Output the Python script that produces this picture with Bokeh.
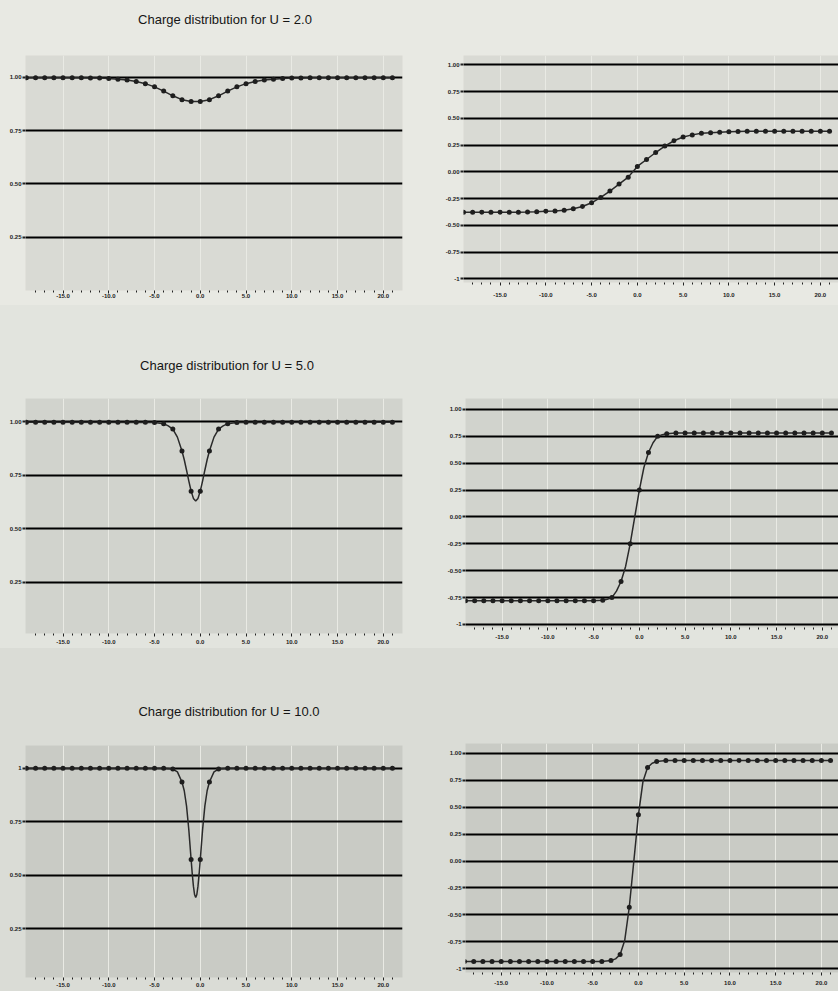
from bokeh.plotting import figure
from bokeh.layouts import column, row
from bokeh.models import FixedTicker, Range1d, PrintfTickFormatter, Div
from bokeh.embed import file_html
from bokeh.resources import INLINE

# lattice sites
sites = list(range(-19, 22))

# x ticks
x_major = [-15, -10, -5, 0, 5, 10, 15, 20]
x_minor = [-18, -17, -16, -14, -13, -12, -11, -9, -8, -7, -6, -4, -3, -2, -1,
           1, 2, 3, 4, 6, 7, 8, 9, 11, 12, 13, 14, 16, 17, 18, 19, 21]
charge_ticks = [0.25, 0.50, 0.75, 1.00]
spin_ticks = [-1.0, -0.75, -0.5, -0.25, 0.0, 0.25, 0.5, 0.75, 1.0]

titles = ["Charge distribution for U = 2.0",
          "Charge distribution for U = 5.0",
          "Charge distribution for U = 10.0"]

# ---- U = 2.0 ----
charge_u2 = [0.998] * 7 + [0.997, 0.996, 0.994, 0.991, 0.987, 0.980, 0.970, 0.955,
                           0.935, 0.913, 0.895, 0.886, 0.886, 0.895, 0.913, 0.935,
                           0.955, 0.970, 0.980, 0.987, 0.991, 0.994, 0.996, 0.997] + [0.998] * 10
spin_u2 = [-0.378] * 7 + [-0.377, -0.374, -0.370, -0.366, -0.360, -0.345, -0.325, -0.290,
                          -0.240, -0.180, -0.115, -0.050, 0.050, 0.115, 0.180, 0.240,
                          0.290, 0.325, 0.345, 0.360, 0.366, 0.370, 0.374, 0.377] + [0.378] * 10

# ---- U = 5.0 ----
charge_u5 = [0.999] * 14 + [0.998, 0.992, 0.967, 0.864, 0.676, 0.676, 0.864, 0.967,
                            0.992, 0.998] + [0.999] * 17
spin_u5 = [-0.78] * 14 + [-0.78, -0.775, -0.75, -0.60, -0.25, 0.25, 0.60, 0.75,
                          0.775, 0.78] + [0.78] * 17
# continuous profile drawn through the sites
curve_u5_x = [-19, -5, -4, -3.5, -3, -2.5, -2, -1.75, -1.5, -1.25, -1, -0.75, -0.5,
              -0.25, 0, 0.25, 0.5, 0.75, 1, 1.5, 2, 2.5, 3, 4, 21]
curve_u5_y = [0.999, 0.998, 0.992, 0.982, 0.967, 0.929, 0.864, 0.823, 0.774, 0.723,
              0.676, 0.642, 0.630, 0.642, 0.676, 0.723, 0.774, 0.823, 0.864, 0.929,
              0.967, 0.982, 0.992, 0.998, 0.999]
curve_s5_x = [-19, -5, -4, -3.5, -3, -2.5, -2, -1.5, -1, -0.5, 0, 0.5, 1, 1.5, 2,
              2.5, 3, 4, 21]
curve_s5_y = [-0.78, -0.78, -0.775, -0.765, -0.75, -0.69, -0.60, -0.46, -0.25, 0.0,
              0.25, 0.46, 0.60, 0.69, 0.75, 0.765, 0.775, 0.78, 0.78]

# ---- U = 10.0 ----
charge_u10 = [0.999] * 15 + [0.999, 0.995, 0.935, 0.573, 0.573, 0.935, 0.995,
                             0.999] + [0.999] * 18
spin_u10 = [-0.935] * 15 + [-0.935, -0.925, -0.87, -0.43, 0.43, 0.87, 0.925,
                            0.935] + [0.935] * 18
curve_u10_x = [-19, -4, -3, -2.5, -2, -1.75, -1.5, -1.25, -1, -0.875, -0.75, -0.625,
               -0.5, -0.375, -0.25, -0.125, 0, 0.25, 0.5, 0.75, 1, 1.5, 2, 3, 21]
curve_u10_y = [0.999, 0.999, 0.995, 0.982, 0.935, 0.894, 0.822, 0.711, 0.573, 0.506,
               0.449, 0.410, 0.396, 0.410, 0.449, 0.506, 0.573, 0.711, 0.822, 0.894,
               0.935, 0.982, 0.995, 0.999, 0.999]
curve_s10_x = [-19, -4, -3, -2.5, -2, -1.5, -1, -0.5, 0, 0.5, 1, 1.5, 2, 3, 21]
curve_s10_y = [-0.935, -0.935, -0.925, -0.91, -0.87, -0.74, -0.43, 0.0, 0.43, 0.74,
               0.87, 0.91, 0.925, 0.935, 0.935]

FONT = "Liberation Sans"
INK = "#222222"
LEFT_W = 420
RIGHT_W = 418


def make_fig(width, height, borders, xr, yr, bg, border, yticks, yover, xstand):
    p = figure(width=width, height=height, output_backend="svg", toolbar_location=None,
               x_range=Range1d(*xr), y_range=Range1d(*yr),
               min_border_left=borders[0], min_border_right=borders[1],
               min_border_top=borders[2], min_border_bottom=borders[3],
               background_fill_color=bg, border_fill_color=border,
               outline_line_color=None, margin=0)
    xt = FixedTicker(ticks=x_major, minor_ticks=x_minor)
    yt = FixedTicker(ticks=yticks)
    p.xaxis.ticker = xt
    p.yaxis.ticker = yt
    p.xgrid.ticker = xt
    p.ygrid.ticker = yt
    p.xaxis.formatter = PrintfTickFormatter(format="%.1f")
    p.yaxis.formatter = PrintfTickFormatter(format="%.2f")
    if yover:
        p.yaxis.major_label_overrides = yover
    p.xgrid.grid_line_color = "#e9eae4"
    p.xgrid.grid_line_width = 1
    p.ygrid.grid_line_color = "black"
    p.ygrid.grid_line_width = 2
    for ax in (p.xaxis, p.yaxis):
        ax.axis_line_color = None
        ax.major_label_text_font = FONT
        ax.major_label_text_font_size = "6px"
        ax.major_label_text_font_style = "bold"
        ax.major_label_text_color = INK
        ax.major_tick_line_color = INK
        ax.minor_tick_line_color = INK
        ax.major_tick_in = 0
        ax.minor_tick_in = 0
    p.xaxis.major_tick_out = 3
    p.xaxis.minor_tick_out = 2
    p.xaxis.major_label_standoff = xstand
    p.yaxis.major_tick_out = 3
    p.yaxis.major_tick_line_width = 2
    p.yaxis.minor_tick_line_color = None
    p.yaxis.major_label_standoff = 1
    return p


def add_series(p, xs, ys, cx=None, cy=None):
    if cx is None:
        cx, cy = xs, ys
    p.line(cx, cy, line_color="#2a2a2a", line_width=1.5)
    p.scatter(xs, ys, size=5, fill_color="#1e1e1e", line_color=None)


def title_div(text, height, top, shift, border):
    html = ('<div style="position:relative; top:%dpx; left:%dpx; width:%dpx; '
            'text-align:center; font-family:\'Liberation Sans\', Arial, sans-serif; '
            'font-size:13px; line-height:16px; color:#151515; white-space:nowrap;">%s</div>'
            % (top, shift, LEFT_W, text))
    return Div(text=html, width=LEFT_W, height=height, margin=0,
               styles={"background-color": border, "overflow": "hidden"})


rows_cfg = [
    # row 1: U = 2.0   (page y 0 .. 305)
    dict(h=305, div_h=38, div_top=12, shift=15,
         lb=(25, 18, 17, 15), rb=(43, 0, 55, 23), lstand=0, rstand=7,
         lx=(-19.1, 22.1), ly=(0.0, 1.102), rx=(-19.0, 21.98), ry=(-1.035, 1.087),
         bg="#d9dad4", border="#e8e9e3",
         charge=charge_u2, spin=spin_u2, cc=None, sc=None, cover=None),
    # row 2: U = 5.0   (page y 305 .. 648)
    dict(h=343, div_h=76, div_top=53, shift=17,
         lb=(25, 18, 17, 15), rb=(45, 0, 93, 21), lstand=3, rstand=4,
         lx=(-19.1, 22.1), ly=(0.009, 1.11), rx=(-19.0, 21.77), ry=(-1.028, 1.102),
         bg="#d1d3cd", border="#e2e4de",
         charge=charge_u5, spin=spin_u5, cc=(curve_u5_x, curve_u5_y),
         sc=(curve_s5_x, curve_s5_y), cover=None),
    # row 3: U = 10.0  (page y 648 .. 991)
    dict(h=343, div_h=80, div_top=56, shift=19,
         lb=(25, 18, 17, 14), rb=(45, 0, 95, 19), lstand=2, rstand=5,
         lx=(-19.1, 22.1), ly=(0.023, 1.105), rx=(-18.9, 21.87), ry=(-1.037, 1.093),
         bg="#c9cbc5", border="#dadcd6",
         charge=charge_u10, spin=spin_u10, cc=(curve_u10_x, curve_u10_y),
         sc=(curve_s10_x, curve_s10_y), cover={1.0: "1"}),
]

rows = []
for i, cfg in enumerate(rows_cfg):
    left = make_fig(LEFT_W, cfg["h"] - cfg["div_h"], cfg["lb"], cfg["lx"], cfg["ly"],
                    cfg["bg"], cfg["border"], charge_ticks, cfg["cover"], cfg["lstand"])
    if cfg["cc"]:
        add_series(left, sites, cfg["charge"], *cfg["cc"])
    else:
        add_series(left, sites, cfg["charge"])
    head = title_div(titles[i], cfg["div_h"], cfg["div_top"], cfg["shift"], cfg["border"])

    right = make_fig(RIGHT_W, cfg["h"], cfg["rb"], cfg["rx"], cfg["ry"], cfg["bg"],
                     cfg["border"], spin_ticks, {-1.0: "-1"}, cfg["rstand"])
    if cfg["sc"]:
        add_series(right, sites, cfg["spin"], *cfg["sc"])
    else:
        add_series(right, sites, cfg["spin"])
    left_col = column(head, left, spacing=0, margin=0,
                      styles={"background-color": cfg["border"]})
    rows.append(row(left_col, right, spacing=0, margin=0,
                    styles={"background-color": cfg["border"]}))

layout = column(*rows, spacing=0, margin=0, styles={"background-color": "#e2e4de"})

open("out.html", "w").write(file_html(layout, INLINE))
